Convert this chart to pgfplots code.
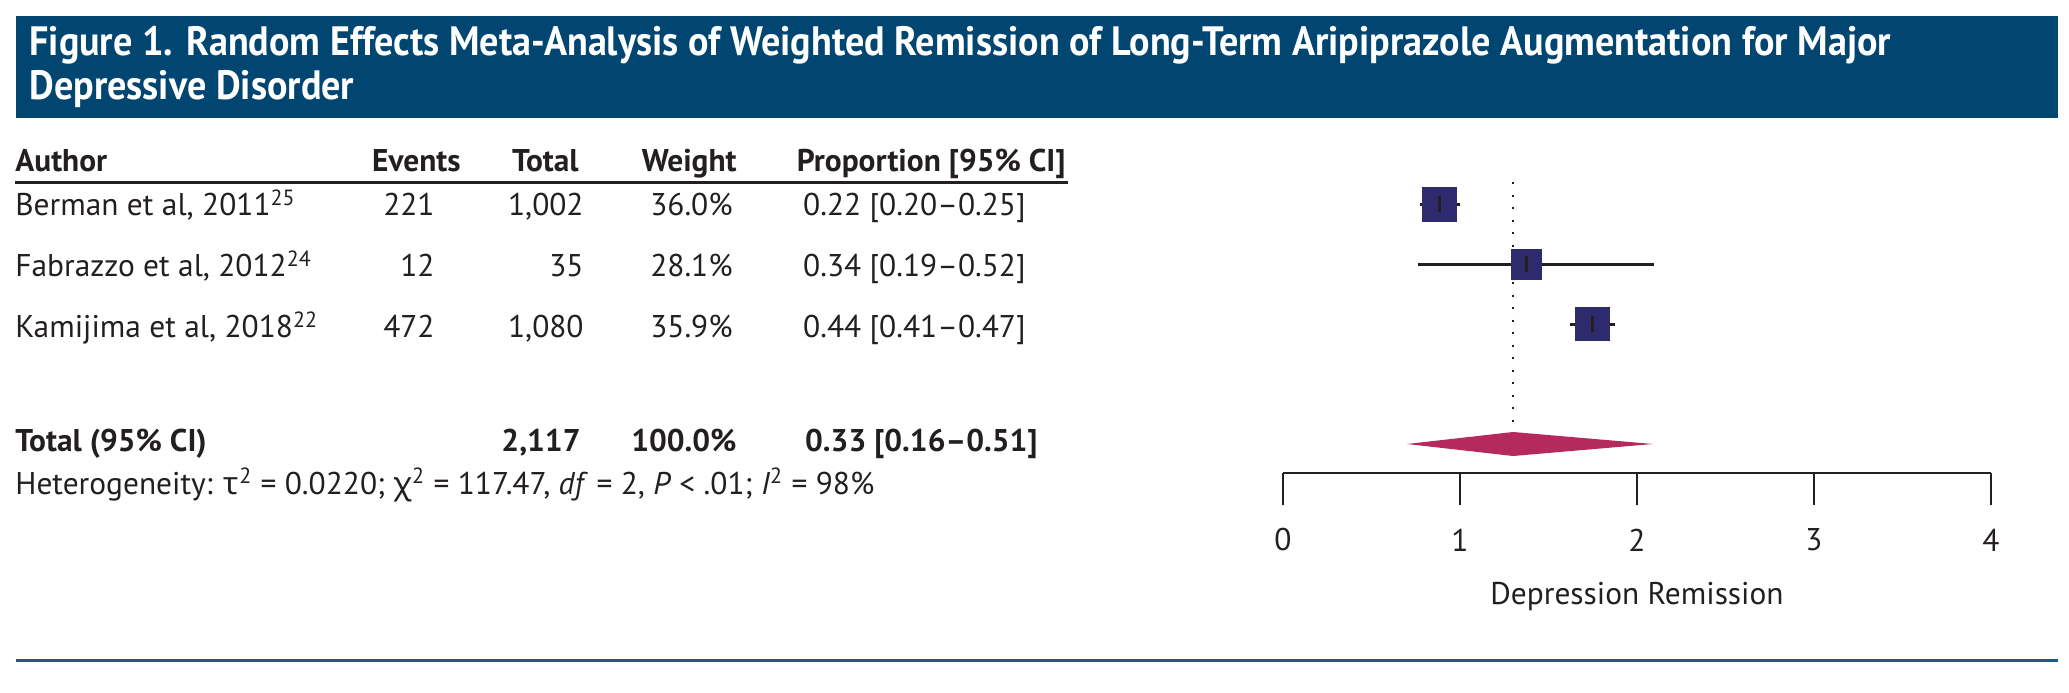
\documentclass[border=0pt]{standalone}
\usepackage{fontspec}
\setmainfont{PT Sans}
\newfontfamily\titlefont[FakeStretch=0.93]{PT Sans}
\newfontfamily\greekfont{Noto Sans}
\usepackage{pgfplots}
\pgfplotsset{compat=1.18}
\definecolor{hdrblue}{RGB}{0,70,112}
\definecolor{rulblue}{RGB}{28,92,140}
\definecolor{sqcol}{RGB}{45,42,110}
\definecolor{diacol}{RGB}{180,42,92}
\definecolor{ink}{RGB}{35,31,32}
\newcommand\bodyfont{\fontsize{15.7}{18}\selectfont}
\newcommand\ttl{\titlefont\bfseries\fontsize{20.5}{24}\selectfont}

\begin{document}
\begin{tikzpicture}
\useasboundingbox (0,0) rectangle (1034.5pt,346pt);
% canvas in pixel units (y down = negative)
\begin{axis}[at={(0pt,0pt)}, anchor=south west, scale only axis,
  width=1034.5pt, height=346pt, xmin=0, xmax=2069, ymin=-692, ymax=0,
  hide axis, clip=false]
  \fill[hdrblue] (axis cs:16,-16) rectangle (axis cs:2058,-118);
  \node[anchor=base west, text=white, font=\ttl, inner sep=0pt] at (axis cs:29,-56)
    {Figure 1. Random Effects Meta-Analysis of Weighted Remission of Long-Term Aripiprazole Augmentation for Major};
  \node[anchor=base west, text=white, font=\ttl, inner sep=0pt] at (axis cs:29,-100)
    {Depressive Disorder};
  % column heads
  \begin{scope}[every node/.style={inner sep=0pt, text=ink, font=\bodyfont\bfseries}]
    \node[anchor=base west] at (axis cs:15,-172) {Author};
    \node[anchor=base east] at (axis cs:461,-172) {Events};
    \node[anchor=base east] at (axis cs:579,-172) {Total};
    \node[anchor=base east] at (axis cs:737,-172) {Weight};
    \node[anchor=base east] at (axis cs:1066,-172) {Proportion [95\% CI]};
    \node[anchor=base west] at (axis cs:15,-451) {Total (95\% CI)};
    \node[anchor=base east] at (axis cs:581,-451) {2,117};
    \node[anchor=base east] at (axis cs:737,-451) {100.0\%};
    \node[anchor=base east] at (axis cs:1038,-451) {0.33 [0.16–0.51]};
  \end{scope}
  \draw[ink, line width=1.5pt] (axis cs:15,-183) -- (axis cs:1068,-183);
  \begin{scope}[every node/.style={inner sep=0pt, text=ink, font=\bodyfont}]
    \node[anchor=base west] at (axis cs:15,-216) {Berman et al, 2011\textsuperscript{25}};
    \node[anchor=base east] at (axis cs:435,-216) {221};
    \node[anchor=base east] at (axis cs:584,-216) {1,002};
    \node[anchor=base east] at (axis cs:733,-216) {36.0\%};
    \node[anchor=base east] at (axis cs:1026,-216) {0.22 [0.20–0.25]};
    \node[anchor=base west] at (axis cs:15,-277) {Fabrazzo et al, 2012\textsuperscript{24}};
    \node[anchor=base east] at (axis cs:435,-277) {12};
    \node[anchor=base east] at (axis cs:584,-277) {35};
    \node[anchor=base east] at (axis cs:733,-277) {28.1\%};
    \node[anchor=base east] at (axis cs:1026,-277) {0.34 [0.19–0.52]};
    \node[anchor=base west] at (axis cs:15,-338) {Kamijima et al, 2018\textsuperscript{22}};
    \node[anchor=base east] at (axis cs:435,-338) {472};
    \node[anchor=base east] at (axis cs:584,-338) {1,080};
    \node[anchor=base east] at (axis cs:733,-338) {35.9\%};
    \node[anchor=base east] at (axis cs:1026,-338) {0.44 [0.41–0.47]};
    \node[anchor=base west] at (axis cs:15,-494)
      {Heterogeneity: {\greekfont τ}\textsuperscript{2} = 0.0220; {\greekfont χ}\textsuperscript{2} = 117.47, \textit{df} = 2, \textit{P} < .01; \textit{I}\textsuperscript{2} = 98\%};
  \end{scope}
  \draw[rulblue, line width=1.5pt] (axis cs:16,-660) -- (axis cs:2058,-660);
\end{axis}

% forest plot
\begin{axis}[at={(641.5pt,109.5pt)}, anchor=south west, scale only axis,
  width=354pt, height=151.5pt, xmin=0, xmax=4, ymin=-473, ymax=-170,
  axis x line*=bottom, axis y line=none, clip=false,
  xtick={0,1,2,3,4}, tick align=outside, major tick length=16pt,
  x axis line style={line width=1.35pt, ink, -},
  xtick style={line width=1.25pt, ink},
  /pgf/number format/assume math mode=true,
  ticklabel style={font=\bodyfont, text=ink},
  xticklabel style={anchor=center, yshift=-17.5pt},
  xlabel={Depression Remission},
  xlabel style={font=\bodyfont, text=ink, at={(axis description cs:0.5,-0.409)}, anchor=center}]
  % pooled estimate reference line
  \addplot[ink, line width=1.3pt, dash pattern=on 1.2pt off 5.05pt] coordinates {(1.30,-182) (1.30,-432)};
  % study squares (size ~ weight)
  \addplot[only marks, mark=square*, mark size=8.4pt, mark options={fill=sqcol, draw=sqcol, line width=0.3pt}] coordinates {(0.883,-204)};
  \addplot[only marks, mark=square*, mark size=7.4pt, mark options={fill=sqcol, draw=sqcol, line width=0.3pt}] coordinates {(1.373,-264)};
  \addplot[only marks, mark=square*, mark size=8.3pt, mark options={fill=sqcol, draw=sqcol, line width=0.3pt}] coordinates {(1.747,-324)};
  % confidence intervals
  \addplot[ink, line width=1.5pt] coordinates {(0.774,-204) (1.000,-204)};
  \addplot[ink, line width=1.5pt] coordinates {(0.762,-264) (2.097,-264)};
  \addplot[ink, line width=1.5pt] coordinates {(1.624,-324) (1.875,-324)};
  \addplot[only marks, mark=|, mark size=4pt, mark options={ink, line width=1.5pt}] coordinates {(0.883,-204) (1.373,-264) (1.747,-324)};
  % summary diamond
  \addplot[fill=diacol, draw=none] coordinates {(0.70,-444) (1.30,-432) (2.09,-444) (1.30,-456) (0.70,-444)};
\end{axis}
\end{tikzpicture}
\end{document}
